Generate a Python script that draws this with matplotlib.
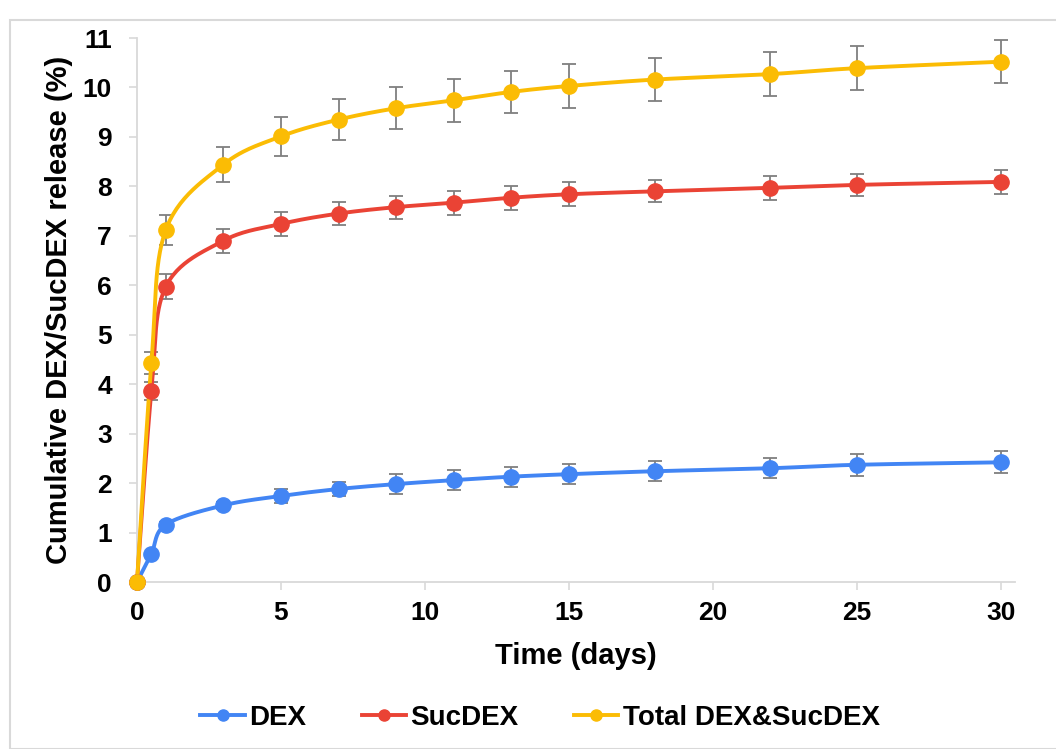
import numpy as np
import matplotlib
matplotlib.use("Agg")
import matplotlib.pyplot as plt
from matplotlib.lines import Line2D
from matplotlib.patches import Rectangle

plt.rcParams['font.family'] = ['Liberation Sans', 'DejaVu Sans']
plt.rcParams['font.weight'] = 'bold'

days = [0, 0.5, 1, 3, 5, 7, 9, 11, 13, 15, 18, 22, 25, 30]
dex = [0, 0.57, 1.16, 1.55, 1.74, 1.88, 1.98, 2.06, 2.13, 2.18, 2.24, 2.30, 2.37, 2.42]
dex_err = [0, 0.03, 0.05, 0.07, 0.15, 0.15, 0.2, 0.2, 0.2, 0.2, 0.2, 0.2, 0.22, 0.22]
suc = [0, 3.86, 5.97, 6.90, 7.24, 7.45, 7.58, 7.67, 7.77, 7.84, 7.90, 7.97, 8.03, 8.09]
suc_err = [0, 0.18, 0.25, 0.24, 0.25, 0.24, 0.23, 0.24, 0.24, 0.24, 0.22, 0.24, 0.23, 0.25]
tot = [0, 4.43, 7.12, 8.44, 9.01, 9.35, 9.58, 9.74, 9.91, 10.03, 10.16, 10.27, 10.39, 10.52]
tot_err = [0, 0.22, 0.30, 0.36, 0.40, 0.42, 0.43, 0.43, 0.43, 0.44, 0.44, 0.44, 0.44, 0.44]

names = ['DEX', 'SucDEX', 'Total DEX&SucDEX']
colors = ['#4285F4', '#EA4335', '#FBBC04']


def smooth(x, y, n=30):
    x = np.asarray(x, float)
    y = np.asarray(y, float)
    P = np.column_stack([x, y])
    out = [P[0]]
    for i in range(len(P) - 1):
        p0 = P[i - 1] if i > 0 else P[i]
        p1 = P[i]
        p2 = P[i + 1]
        p3 = P[i + 2] if i + 2 < len(P) else P[i + 1]
        c1 = p1 + (p2 - p0) / 6.0
        c2 = p2 - (p3 - p1) / 6.0
        t = np.linspace(0, 1, n)[1:, None]
        seg = ((1 - t) ** 3) * p1 + 3 * ((1 - t) ** 2) * t * c1 + 3 * (1 - t) * t ** 2 * c2 + t ** 3 * p2
        out.extend(seg)
    out = np.array(out)
    return out[:, 0], out[:, 1]


fig = plt.figure(figsize=(10.56, 7.49), dpi=100)
fig.patches.append(Rectangle((10 / 1056, 0), 1.2, (749 - 20) / 749, transform=fig.transFigure,
                             fill=False, edgecolor='#d9d9d9', linewidth=1.5, zorder=0))
ax = fig.add_axes([137 / 1056, (749 - 582) / 749, (1015 - 137) / 1056, (582 - 38) / 749])

for ys, es, c in zip([dex, suc, tot], [dex_err, suc_err, tot_err], colors):
    sx, sy = smooth(days, ys)
    ax.plot(sx, sy, color=c, lw=2.8, zorder=3, clip_on=False, solid_capstyle='round')
    ax.errorbar(days, ys, yerr=es, fmt='none', ecolor='#7f7f7f', elinewidth=1.3,
                capsize=5, capthick=1.3, zorder=2)
    ax.plot(days, ys, 'o', color=c, ms=11, zorder=4, clip_on=False)

ax.set_xlim(0, 30.5)
ax.set_ylim(0, 11)
ax.set_xticks([0, 5, 10, 15, 20, 25, 30])
ax.set_yticks(range(0, 12))
for s in ['top', 'right']:
    ax.spines[s].set_visible(False)
for s in ['left', 'bottom']:
    ax.spines[s].set_color('#d9d9d9')
    ax.spines[s].set_linewidth(1.3)
ax.tick_params(axis='both', colors='#d9d9d9', labelcolor='black', labelsize=19, length=6, width=1.2)
ax.tick_params(axis='y', pad=12)
ax.tick_params(axis='x', pad=8)
for lab in ax.get_xticklabels() + ax.get_yticklabels():
    lab.set_fontweight('bold')
ax.set_xlabel('Time (days)', fontsize=21, fontweight='bold', labelpad=12)
ax.set_ylabel('Cumulative DEX/SucDEX release (%)', fontsize=21, fontweight='bold', labelpad=7)

handles = [Line2D([0], [0], color=c, lw=2.8, marker='o', ms=8) for c in colors]
fig.legend(handles, names, loc='center', bbox_to_anchor=(540 / 1056, 1 - 718 / 749), ncol=3,
           frameon=False, handlelength=1.6, handletextpad=0.15, columnspacing=2.0,
           prop={'weight': 'bold', 'size': 20})

fig.savefig('out.png', dpi=100)
